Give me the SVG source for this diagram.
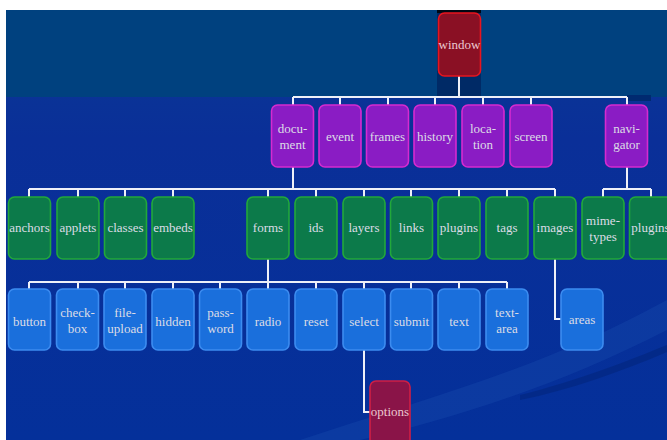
<svg xmlns="http://www.w3.org/2000/svg" width="667" height="440" viewBox="0 0 667 440">
<defs>
<linearGradient id="bgLow" x1="0" y1="0" x2="0" y2="1">
<stop offset="0" stop-color="#0a3a94"/>
<stop offset="0.3" stop-color="#0a2f98"/>
<stop offset="1" stop-color="#04309a"/>
</linearGradient>
<style>
.bx{stroke-width:1.6}
.win{fill:#8a1024;stroke:#e8141e}
.pur{fill:#8a1cc4;stroke:#d62ad0}
.grn{fill:#0c7a4a;stroke:#22a83a}
.blu{fill:#1a6fdc;stroke:#3c8cf0}
.opt{fill:#8a1448;stroke:#d01e44}
text{font-family:"Liberation Serif","DejaVu Serif",serif;font-size:13px;fill:#dcdce6;text-anchor:middle}
.wt{fill:#ecc8d0}
.conn{fill:none;stroke:#eef0f8;stroke-width:2}
</style>
</defs>
<rect x="0" y="0" width="667" height="440" fill="#ffffff"/>
<rect x="6" y="10" width="661" height="430" fill="url(#bgLow)"/>
<rect x="6" y="10" width="661" height="87" fill="#00417f"/>
<rect x="437" y="10" width="44" height="87" fill="#002a66"/>
<rect x="437" y="10" width="44" height="3" fill="#000814"/>
<rect x="627" y="95" width="24" height="6" fill="#002a70"/>
<path d="M300 440 C420 400 540 370 667 300 L667 330 C560 385 450 420 360 440 Z" fill="#1a4cb0" opacity="0.35"/>
<path d="M520 395 C580 380 630 360 667 345 L667 352 C620 372 570 390 520 400 Z" fill="#00206e" opacity="0.4"/>

<g id="connectors">
<path class="conn" d="M459 76 V97 M293 97 H627 M293 97 V105 M340 97 V105 M388 97 V105 M435 97 V105 M483 97 V105 M531 97 V105 M627 97 V105"/>
<path class="conn" d="M293 167 V189 M29 189 H555 M29 189 V197 M78 189 V197 M125 189 V197 M173 189 V197 M268 189 V197 M316 189 V197 M364 189 V197 M411 189 V197 M459 189 V197 M507 189 V197 M555 189 V197"/>
<path class="conn" d="M627 167 V189 M603 189 H651 M603 189 V197 M651 189 V197"/>
<path class="conn" d="M268 259 V282 M29 282 H507 M29 282 V289 M78 282 V289 M125 282 V289 M173 282 V289 M220 282 V289 M268 282 V289 M316 282 V289 M364 282 V289 M411 282 V289 M459 282 V289 M507 282 V289"/>
<path class="conn" d="M555 259 V319 H561"/>
<path class="conn" d="M364 350 V412 H370"/>
</g>

<g id="window"><rect class="bx win" x="438.5" y="13" width="42" height="63" rx="6"/><text class="wt" x="459.5" y="49">window</text></g>

<g id="document"><rect class="bx pur" x="271.5" y="105" width="42" height="62" rx="6"/><text x="292.5" y="133">docu-</text><text x="292.5" y="149">ment</text></g>
<g id="event"><rect class="bx pur" x="319" y="105" width="42" height="62" rx="6"/><text x="340" y="141">event</text></g>
<g id="frames"><rect class="bx pur" x="366.5" y="105" width="42" height="62" rx="6"/><text x="387.5" y="141">frames</text></g>
<g id="history"><rect class="bx pur" x="414" y="105" width="42" height="62" rx="6"/><text x="435" y="141">history</text></g>
<g id="location"><rect class="bx pur" x="462" y="105" width="42" height="62" rx="6"/><text x="483" y="133">loca-</text><text x="483" y="149">tion</text></g>
<g id="screen"><rect class="bx pur" x="510" y="105" width="42" height="62" rx="6"/><text x="531" y="141">screen</text></g>
<g id="navigator"><rect class="bx pur" x="605.5" y="105" width="42" height="62" rx="6"/><text x="626.5" y="133">navi-</text><text x="626.5" y="149">gator</text></g>

<g id="anchors"><rect class="bx grn" x="8.5" y="197" width="42" height="62" rx="6"/><text x="29.5" y="232">anchors</text></g>
<g id="applets"><rect class="bx grn" x="57" y="197" width="42" height="62" rx="6"/><text x="78" y="232">applets</text></g>
<g id="classes"><rect class="bx grn" x="104.5" y="197" width="42" height="62" rx="6"/><text x="125.5" y="232">classes</text></g>
<g id="embeds"><rect class="bx grn" x="152" y="197" width="42" height="62" rx="6"/><text x="173" y="232">embeds</text></g>
<g id="forms"><rect class="bx grn" x="247" y="197" width="42" height="62" rx="6"/><text x="268" y="232">forms</text></g>
<g id="ids"><rect class="bx grn" x="295" y="197" width="42" height="62" rx="6"/><text x="316" y="232">ids</text></g>
<g id="layers"><rect class="bx grn" x="343" y="197" width="42" height="62" rx="6"/><text x="364" y="232">layers</text></g>
<g id="links"><rect class="bx grn" x="390.5" y="197" width="42" height="62" rx="6"/><text x="411.5" y="232">links</text></g>
<g id="plugins"><rect class="bx grn" x="438" y="197" width="42" height="62" rx="6"/><text x="459" y="232">plugins</text></g>
<g id="tags"><rect class="bx grn" x="486" y="197" width="42" height="62" rx="6"/><text x="507" y="232">tags</text></g>
<g id="images"><rect class="bx grn" x="534" y="197" width="42" height="62" rx="6"/><text x="555" y="232">images</text></g>
<g id="mimetypes"><rect class="bx grn" x="582" y="197" width="42" height="62" rx="6"/><text x="603" y="225">mime-</text><text x="603" y="241">types</text></g>
<g id="navplugins"><rect class="bx grn" x="629.5" y="197" width="42" height="62" rx="6"/><text x="650.5" y="232">plugins</text></g>

<g id="button"><rect class="bx blu" x="8.5" y="289" width="42" height="61" rx="6"/><text x="29.5" y="326">button</text></g>
<g id="checkbox"><rect class="bx blu" x="56.5" y="289" width="42" height="61" rx="6"/><text x="77.5" y="317">check-</text><text x="77.5" y="333">box</text></g>
<g id="fileupload"><rect class="bx blu" x="104" y="289" width="42" height="61" rx="6"/><text x="125" y="317">file-</text><text x="125" y="333">upload</text></g>
<g id="hidden"><rect class="bx blu" x="152" y="289" width="42" height="61" rx="6"/><text x="173" y="326">hidden</text></g>
<g id="password"><rect class="bx blu" x="199.5" y="289" width="42" height="61" rx="6"/><text x="220.5" y="317">pass-</text><text x="220.5" y="333">word</text></g>
<g id="radio"><rect class="bx blu" x="247" y="289" width="42" height="61" rx="6"/><text x="268" y="326">radio</text></g>
<g id="reset"><rect class="bx blu" x="295" y="289" width="42" height="61" rx="6"/><text x="316" y="326">reset</text></g>
<g id="select"><rect class="bx blu" x="343" y="289" width="42" height="61" rx="6"/><text x="364" y="326">select</text></g>
<g id="submit"><rect class="bx blu" x="390.5" y="289" width="42" height="61" rx="6"/><text x="411.5" y="326">submit</text></g>
<g id="text"><rect class="bx blu" x="438" y="289" width="42" height="61" rx="6"/><text x="459" y="326">text</text></g>
<g id="textarea"><rect class="bx blu" x="486" y="289" width="42" height="61" rx="6"/><text x="507" y="317">text-</text><text x="507" y="333">area</text></g>
<g id="areas"><rect class="bx blu" x="561" y="289" width="42" height="61" rx="6"/><text x="582" y="324">areas</text></g>

<g id="options"><rect class="bx opt" x="370" y="381" width="40" height="65" rx="6"/><text class="wt" x="390" y="416">options</text></g>
</svg>
